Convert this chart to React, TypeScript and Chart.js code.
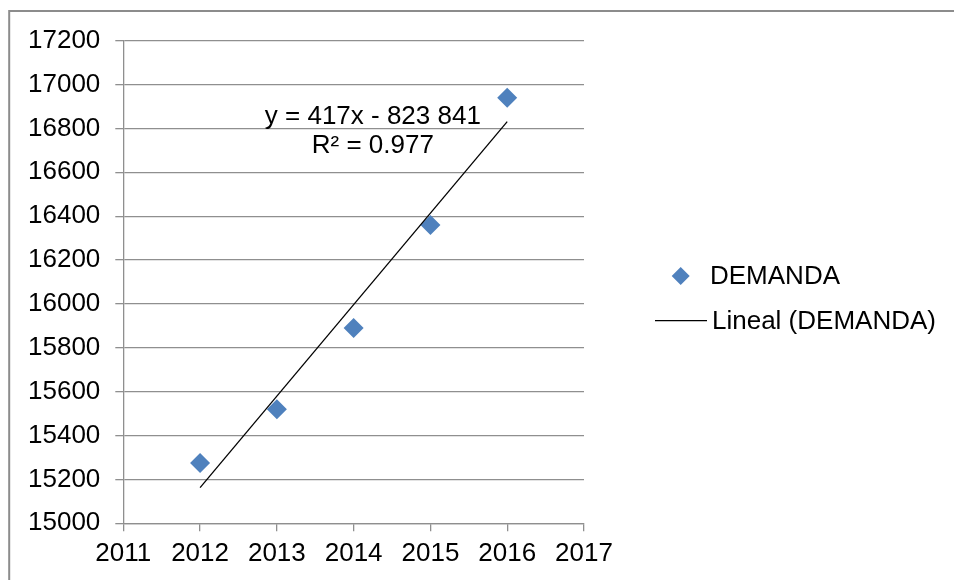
import React, { useEffect, useRef } from "react";
import { Chart, registerables } from "chart.js";

Chart.register(...registerables);

// Annual demand observations
const years = [2012, 2013, 2014, 2015, 2016];
const demanda = [15275, 15520, 15890, 16360, 16940];

// Least-squares trend reported for the series
const trendSlope = 417;
const trendIntercept = -823841;
const rSquared = 0.977;

// Axis ranges and steps
const xRange = [2011, 2017];
const xStep = 1;
const yRange = [15000, 17200];
const yStep = 200;

// Legend texts
const seriesLabel = "DEMANDA";
const trendLabel = "Lineal (DEMANDA)";

const FONT_FAMILY = "'Liberation Sans', Arial, Helvetica, sans-serif";
const FONT_SIZE = 26;
const FONT = `${FONT_SIZE}px ${FONT_FAMILY}`;
const GRID = "#8f8f8f";
const MARKER = "#4F81BD";

const groupThousands = (n: number) =>
  String(Math.abs(n)).replace(/\B(?=(\d{3})+(?!\d))/g, " ");

const equationText = `y = ${trendSlope}x ${trendIntercept < 0 ? "-" : "+"} ${groupThousands(trendIntercept)}`;
const r2Text = `R² = ${rSquared}`;

const trendAt = (x: number) => trendSlope * x + trendIntercept;

// Outer frame of the chart object (left and top edges)
const framePlugin = {
  id: "frame",
  beforeDraw(chart: any) {
    const { ctx, width, height } = chart;
    ctx.save();
    ctx.strokeStyle = "#8c8c8c";
    ctx.lineWidth = 2;
    ctx.beginPath();
    ctx.moveTo(9.2, height);
    ctx.lineTo(9.2, 11);
    ctx.lineTo(width, 11);
    ctx.stroke();
    ctx.restore();
  },
};

// Trend equation and R² placed inside the plot
const equationPlugin = {
  id: "equation",
  afterDatasetsDraw(chart: any) {
    const { ctx, scales } = chart;
    const cx = scales.x.getPixelForValue(2014.25);
    const by = scales.y.getPixelForValue(16820);
    ctx.save();
    ctx.font = FONT;
    ctx.fillStyle = "#000";
    ctx.textAlign = "center";
    ctx.textBaseline = "alphabetic";
    ctx.fillText(equationText, cx, by);
    ctx.fillText(r2Text, cx, by + 29.4);
    ctx.restore();
  },
};

// Legend to the right of the plot area
const legendPlugin = {
  id: "sideLegend",
  afterDraw(chart: any) {
    const { ctx, chartArea } = chart;
    const sets = chart.data.datasets;
    const markerSet = sets.find((d: any) => d.label === seriesLabel);
    const lineSet = sets.find((d: any) => d.label === trendLabel);
    const x0 = chartArea.right + 71;
    ctx.save();
    ctx.font = FONT;
    ctx.textAlign = "left";
    ctx.textBaseline = "middle";

    // marker entry
    const my = 276;
    const mx = x0 + 25.7;
    const r = 9;
    ctx.fillStyle = markerSet.backgroundColor;
    ctx.beginPath();
    ctx.moveTo(mx - r, my);
    ctx.lineTo(mx, my - r);
    ctx.lineTo(mx + r, my);
    ctx.lineTo(mx, my + r);
    ctx.closePath();
    ctx.fill();
    ctx.fillStyle = "#000";
    ctx.fillText(markerSet.label, x0 + 55, my + 0.6);

    // trend line entry
    const ly = 320.7;
    ctx.strokeStyle = lineSet.borderColor;
    ctx.lineWidth = lineSet.borderWidth;
    ctx.beginPath();
    ctx.moveTo(x0, ly);
    ctx.lineTo(x0 + 52, ly);
    ctx.stroke();
    ctx.fillText(lineSet.label, x0 + 57, ly + 1.3);
    ctx.restore();
  },
};

export default function App() {
  const canvasRef = useRef<HTMLCanvasElement | null>(null);

  useEffect(() => {
    const canvas = canvasRef.current;
    if (!canvas) return;

    const chart = new Chart(canvas, {
      type: "scatter",
      data: {
        datasets: [
          {
            label: trendLabel,
            type: "line",
            data: [
              { x: years[0], y: trendAt(years[0]) },
              { x: years[years.length - 1], y: trendAt(years[years.length - 1]) },
            ],
            showLine: true,
            borderColor: "#000000",
            borderWidth: 1.3,
            pointRadius: 0,
            fill: false,
            order: 0,
          } as any,
          {
            label: seriesLabel,
            data: years.map((x, i) => ({ x, y: demanda[i] })),
            backgroundColor: MARKER,
            borderColor: MARKER,
            borderWidth: 0,
            pointStyle: "rectRot",
            pointRadius: 10,
            order: 1,
          },
        ],
      },
      options: {
        animation: false,
        responsive: false,
        devicePixelRatio: 1,
        events: [],
        layout: { padding: { left: 0, top: 40.7, right: 370, bottom: 11.7 } },
        plugins: {
          legend: { display: false },
          tooltip: { enabled: false },
        },
        scales: {
          x: {
            type: "linear",
            min: xRange[0],
            max: xRange[1],
            afterFit(scale: any) {
              scale.height = 45;
            },
            ticks: {
              stepSize: xStep,
              color: "#000",
              padding: 7,
              font: { family: FONT_FAMILY, size: FONT_SIZE, lineHeight: 1.2 },
              callback: (v: any) => String(v),
              maxRotation: 0,
            },
            grid: {
              drawOnChartArea: false,
              drawTicks: true,
              tickLength: 8,
              color: GRID,
              lineWidth: 1.3,
            },
            border: { display: true, color: GRID, width: 1.3 },
          },
          y: {
            type: "linear",
            min: yRange[0],
            max: yRange[1],
            afterFit(scale: any) {
              scale.width = 123.3;
            },
            ticks: {
              stepSize: yStep,
              color: "#000",
              padding: 15,
              font: { family: FONT_FAMILY, size: FONT_SIZE, lineHeight: 1.2 },
              callback: (v: any) => String(v),
            },
            grid: {
              drawOnChartArea: true,
              drawTicks: true,
              tickLength: 8,
              color: GRID,
              lineWidth: 1.3,
            },
            border: { display: true, color: GRID, width: 1.3 },
          },
        },
      },
      plugins: [framePlugin, equationPlugin, legendPlugin],
    });

    return () => chart.destroy();
  }, []);

  return (
    <div style={{ position: "fixed", left: 0, top: 0, width: 954, height: 580, background: "#fff" }}>
      <canvas ref={canvasRef} width={954} height={580} style={{ display: "block" }} />
    </div>
  );
}
